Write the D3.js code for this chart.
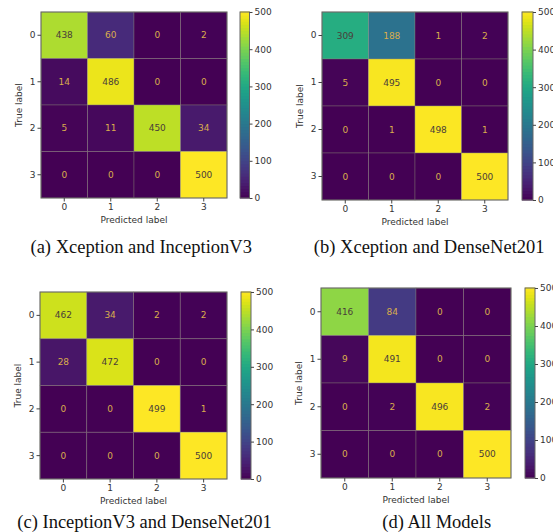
<!DOCTYPE html>
<html><head><meta charset="utf-8">
<script src="https://cdn.jsdelivr.net/npm/d3@7"></script>
<style>body{margin:0;background:#fff}svg{display:block}</style>
</head><body>
<svg id="c" width="553" height="532"></svg>
<script>
const classes = ["0","1","2","3"];
const cmA = [[438,60,0,2],[14,486,0,0],[5,11,450,34],[0,0,0,500]];
const cmB = [[309,188,1,2],[5,495,0,0],[0,1,498,1],[0,0,0,500]];
const cmC = [[462,34,2,2],[28,472,0,0],[0,0,499,1],[0,0,0,500]];
const cmD = [[416,84,0,0],[9,491,0,0],[0,2,496,2],[0,0,0,500]];
const captions = ["(a) Xception and InceptionV3","(b) Xception and DenseNet201","(c) InceptionV3 and DenseNet201","(d) All Models"];
const cbTicks = [0,100,200,300,400,500];

const layouts = [
  {mx:41, my:12, mw:186, mh:186, cbx:240, cbw:9.5, capx:141.2, capy:252.5},
  {mx:322, my:12, mw:186, mh:188, cbx:522, cbw:11, capx:429.2, capy:252.5},
  {mx:40, my:292, mw:187, mh:187, cbx:241, cbw:10, capx:144.5, capy:527.5},
  {mx:321, my:288, mw:190, mh:190, cbx:525, cbw:10, capx:436.7, capy:527.5}
];
const mats = [cmA, cmB, cmC, cmD];
const svg = d3.select("#c");
const sans = "DejaVu Sans, sans-serif";
const fs = 9;

mats.forEach((m, k) => {
  const L = layouts[k];
  const g = svg.append("g");
  const x = d3.scaleBand().domain(classes).range([L.mx, L.mx + L.mw]);
  const y = d3.scaleBand().domain(classes).range([L.my, L.my + L.mh]);
  const vmax = d3.max(m.flat()), vmin = d3.min(m.flat());
  const col = d3.scaleSequential(d3.interpolateViridis).domain([vmin, vmax]);
  const thresh = (vmax + vmin) / 2;
  const cells = [];
  m.forEach((row, i) => row.forEach((v, j) => cells.push({i, j, v})));
  g.selectAll("rect.cell").data(cells).join("rect")
    .attr("x", d => x(classes[d.j])).attr("y", d => y(classes[d.i]))
    .attr("width", x.bandwidth()).attr("height", y.bandwidth())
    .attr("fill", d => col(d.v))
    .attr("stroke", "rgba(140,140,120,0.45)").attr("stroke-width", 0.8);
  g.selectAll("text.val").data(cells).join("text")
    .attr("x", d => x(classes[d.j]) + x.bandwidth()/2)
    .attr("y", d => y(classes[d.i]) + y.bandwidth()/2)
    .attr("text-anchor", "middle").attr("dominant-baseline", "central")
    .attr("font-family", sans).attr("font-size", fs)
    .attr("fill", d => d.v < thresh ? "#d9ad4c" : "#4a3d3a")
    .text(d => d.v);
  g.append("rect").attr("x", L.mx).attr("y", L.my).attr("width", L.mw).attr("height", L.mh)
    .attr("fill", "none").attr("stroke", "#666").attr("stroke-width", 1);
  const xa = g.append("g").attr("transform", `translate(0,${L.my + L.mh})`)
    .call(d3.axisBottom(x).tickSize(3.5).tickPadding(2));
  const ya = g.append("g").attr("transform", `translate(${L.mx},0)`)
    .call(d3.axisLeft(y).tickSize(3.5).tickPadding(2));
  [xa, ya].forEach(a => {
    a.select(".domain").remove();
    a.selectAll("line").attr("stroke", "#444");
    a.selectAll("text").attr("font-family", sans).attr("font-size", fs).attr("fill", "#333");
  });
  g.append("text").attr("x", L.mx + L.mw/2).attr("y", L.my + L.mh + 22)
    .attr("text-anchor", "middle").attr("dominant-baseline", "central")
    .attr("font-family", sans).attr("font-size", fs).attr("fill", "#333").text("Predicted label");
  g.append("text").attr("transform", `translate(${L.mx - 22},${L.my + L.mh/2}) rotate(-90)`)
    .attr("text-anchor", "middle").attr("dominant-baseline", "central")
    .attr("font-family", sans).attr("font-size", fs).attr("fill", "#333").text("True label");
  const cy = d3.scaleLinear().domain([vmin, vmax]).range([L.my + L.mh, L.my]);
  const n = 60;
  const steps = d3.range(n).map(s => vmin + (vmax - vmin) * s / n);
  g.selectAll("rect.cb").data(steps).join("rect")
    .attr("x", L.cbx).attr("width", L.cbw)
    .attr("y", d => cy(d + (vmax - vmin)/n) - 0.5)
    .attr("height", d => cy(d) - cy(d + (vmax - vmin)/n) + 1)
    .attr("fill", d => col(d + (vmax - vmin)/(2*n)));
  g.append("rect").attr("x", L.cbx).attr("y", L.my).attr("width", L.cbw).attr("height", L.mh)
    .attr("fill", "none").attr("stroke", "#666").attr("stroke-width", 1);
  const ca = g.append("g").attr("transform", `translate(${L.cbx + L.cbw},0)`)
    .call(d3.axisRight(cy).tickValues(cbTicks).tickSize(3).tickPadding(2));
  ca.select(".domain").remove();
  ca.selectAll("line").attr("stroke", "#444");
  ca.selectAll("text").attr("font-family", sans).attr("font-size", fs).attr("fill", "#333");
  svg.append("text").attr("x", L.capx).attr("y", L.capy).attr("text-anchor", "middle")
    .attr("font-family", "Liberation Serif, Times New Roman, serif").attr("font-size", 18.5)
    .attr("fill", "#111").text(captions[k]);
});
</script>
</body></html>
